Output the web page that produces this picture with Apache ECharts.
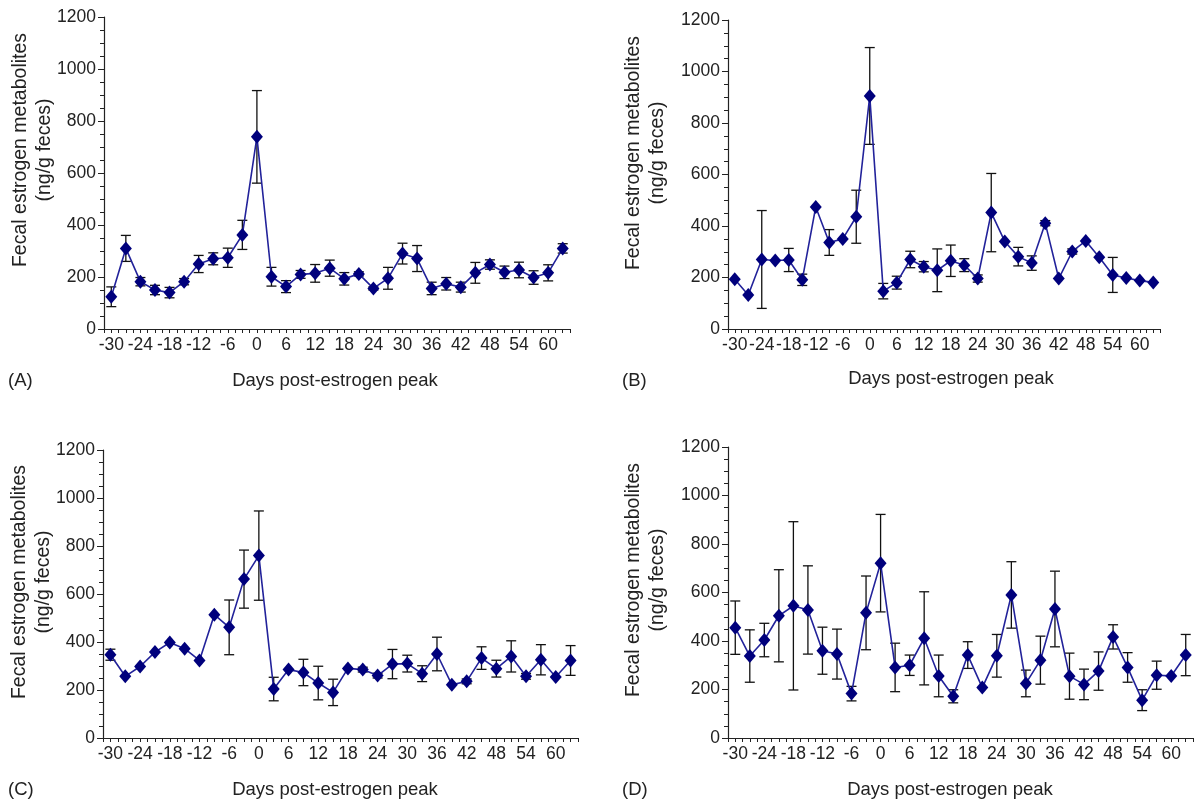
<!DOCTYPE html>
<html>
<head>
<meta charset="utf-8">
<script src="https://cdn.jsdelivr.net/npm/echarts@6/dist/echarts.min.js"></script>
<style>
  html, body { margin: 0; padding: 0; background: #fff; }
  #chart { width: 1196px; height: 799px; }
</style>
</head>
<body>
<div id="chart"></div>
<script>
// sampling days (every 3 days around the estrogen peak)
const days = [-30, -27, -24, -21, -18, -15, -12, -9, -6, -3, 0, 3, 6, 9, 12, 15,
  18, 21, 24, 27, 30, 33, 36, 39, 42, 45, 48, 51, 54, 57, 60, 63];
const xTickLabels = [-30, -24, -18, -12, -6, 0, 6, 12, 18, 24, 30, 36, 42, 48, 54, 60];
const yTickLabels = [0, 200, 400, 600, 800, 1000, 1200];

// (A)
const aMean = [124, 310, 182, 150, 140, 182, 250, 270, 274, 362, 739, 201, 163, 210, 214, 234,
  193, 212, 156, 195, 290, 271, 156, 174, 161, 216, 248, 218, 227, 198, 216, 310];
const aErr = [38, 50, 16, 18, 20, 12, 33, 23, 37, 56, 178, 36, 23, 15, 34, 31,
  24, 8, 6, 42, 40, 50, 24, 24, 19, 40, 18, 24, 30, 26, 31, 18];
// (B)
const bMean = [193, 132, 270, 266, 268, 191, 474, 336, 350, 436, 905, 147, 180, 270, 242, 228,
  265, 248, 196, 452, 340, 281, 256, 411, 196, 301, 342, 279, 210, 198, 188, 181];
const bErr = [0, 0, 190, 0, 45, 22, 0, 50, 0, 103, 188, 30, 25, 32, 20, 83,
  61, 25, 14, 152, 0, 36, 28, 10, 0, 10, 0, 0, 68, 0, 0, 0];
// (C)
const cMean = [347, 257, 298, 358, 398, 372, 323, 514, 461, 662, 760, 204, 285, 273, 229, 190,
  290, 285, 260, 308, 310, 268, 350, 222, 236, 333, 289, 340, 257, 326, 254, 323];
const cErr = [23, 0, 0, 0, 0, 0, 0, 0, 114, 121, 186, 49, 0, 55, 70, 55,
  0, 10, 10, 61, 35, 33, 70, 0, 10, 47, 35, 65, 12, 63, 0, 62];
// (D)
const dMean = [455, 338, 404, 504, 545, 528, 360, 346, 183, 516, 721, 291, 300, 411, 256, 172,
  342, 208, 339, 590, 225, 321, 532, 255, 221, 276, 417, 291, 156, 259, 256, 342];
const dErr = [110, 108, 69, 190, 347, 182, 97, 103, 30, 152, 201, 100, 42, 192, 86, 27,
  55, 0, 88, 137, 55, 99, 156, 95, 63, 79, 50, 61, 43, 58, 0, 85];

const panels = [
  { mean: aMean, err: aErr, grid: { left: 104, top: 17, width: 466, height: 312 } },
  { mean: bMean, err: bErr, grid: { left: 728, top: 20, width: 432, height: 309 } },
  { mean: cMean, err: cErr, grid: { left: 103, top: 450, width: 475, height: 288 } },
  { mean: dMean, err: dErr, grid: { left: 728, top: 447, width: 466, height: 291 } }
];

const axisColor = '#222';
const fontFamily = 'Liberation Sans, Arial, sans-serif';

// error bar with caps
function renderErr(params, api) {
  const x = api.value(0);
  const lo = api.value(1);
  const hi = api.value(2);
  if (hi - lo <= 0) return { type: 'group', children: [] };
  const top = api.coord([x, hi]);
  const bot = api.coord([x, lo]);
  const w = 5;
  const style = { stroke: '#111', lineWidth: 1.3 };
  return {
    type: 'group',
    children: [
      { type: 'line', shape: { x1: top[0], y1: top[1], x2: bot[0], y2: bot[1] }, style },
      { type: 'line', shape: { x1: top[0] - w, y1: top[1], x2: top[0] + w, y2: top[1] }, style },
      { type: 'line', shape: { x1: bot[0] - w, y1: bot[1], x2: bot[0] + w, y2: bot[1] }, style }
    ]
  };
}

const grids = [], xAxes = [], yAxes = [], series = [];
panels.forEach((p, i) => {
  grids.push(p.grid);
  xAxes.push({
    gridIndex: i,
    type: 'value',
    min: -31.5,
    max: 64.5,
    interval: 1.5,
    axisLine: { onZero: false, lineStyle: { color: axisColor, width: 1.2 } },
    axisTick: { length: 4, lineStyle: { color: axisColor } },
    axisLabel: {
      color: axisColor,
      fontSize: 17.5,
      fontFamily,
      margin: 7,
      formatter: v => (xTickLabels.indexOf(v) >= 0 ? String(v) : '')
    },
    splitLine: { show: false }
  });
  yAxes.push({
    gridIndex: i,
    type: 'value',
    min: 0,
    max: 1200,
    interval: 200,
    axisLine: { show: true, onZero: false, lineStyle: { color: axisColor, width: 1.2 } },
    axisTick: { show: true, length: 6, lineStyle: { color: axisColor } },
    minorTick: { show: true, splitNumber: 4, length: 4, lineStyle: { color: axisColor } },
    axisLabel: {
      color: axisColor,
      fontSize: 17.5,
      fontFamily,
      margin: 8,
      formatter: v => (yTickLabels.indexOf(v) >= 0 ? String(v) : '')
    },
    splitLine: { show: false }
  });
  series.push({
    type: 'custom',
    xAxisIndex: i,
    yAxisIndex: i,
    renderItem: renderErr,
    z: 2,
    data: days.map((d, k) => [d, p.mean[k] - p.err[k], p.mean[k] + p.err[k]])
  });
  series.push({
    type: 'line',
    xAxisIndex: i,
    yAxisIndex: i,
    z: 3,
    symbol: 'diamond',
    symbolSize: [12, 14],
    lineStyle: { color: '#22229a', width: 1.6 },
    itemStyle: { color: '#00007c' },
    data: days.map((d, k) => [d, p.mean[k]])
  });
});

// titles and panel letters
const yTitlePos = [[21, 45, 150], [634, 658, 153], [20, 44, 582], [634, 658, 580]];
const xTitlePos = [[335, 381], [951, 379], [335, 790], [950, 790]];
const letters = [['(A)', 8, 381], ['(B)', 622, 381], ['(C)', 8, 790], ['(D)', 622, 790]];
const textStyle = (text, size) => ({
  text, fontSize: size, fontFamily, fill: axisColor, align: 'center', verticalAlign: 'middle'
});
const graphic = [];
yTitlePos.forEach(p => {
  graphic.push({ type: 'text', x: p[0], y: p[2], rotation: Math.PI / 2, style: textStyle('Fecal estrogen metabolites', 19.5) });
  graphic.push({ type: 'text', x: p[1], y: p[2], rotation: Math.PI / 2, style: textStyle('(ng/g feces)', 19.5) });
});
xTitlePos.forEach(p => {
  graphic.push({ type: 'text', x: p[0], y: p[1], style: textStyle('Days post-estrogen peak', 18.5) });
});
letters.forEach(l => {
  graphic.push({ type: 'text', x: l[1], y: l[2], style: { text: l[0], fontSize: 18.5, fontFamily, fill: axisColor, align: 'left', verticalAlign: 'middle' } });
});

const myChart = echarts.init(document.getElementById('chart'));
myChart.setOption({
  animation: false,
  backgroundColor: '#fff',
  grid: grids,
  xAxis: xAxes,
  yAxis: yAxes,
  series,
  graphic
});
</script>
</body>
</html>
